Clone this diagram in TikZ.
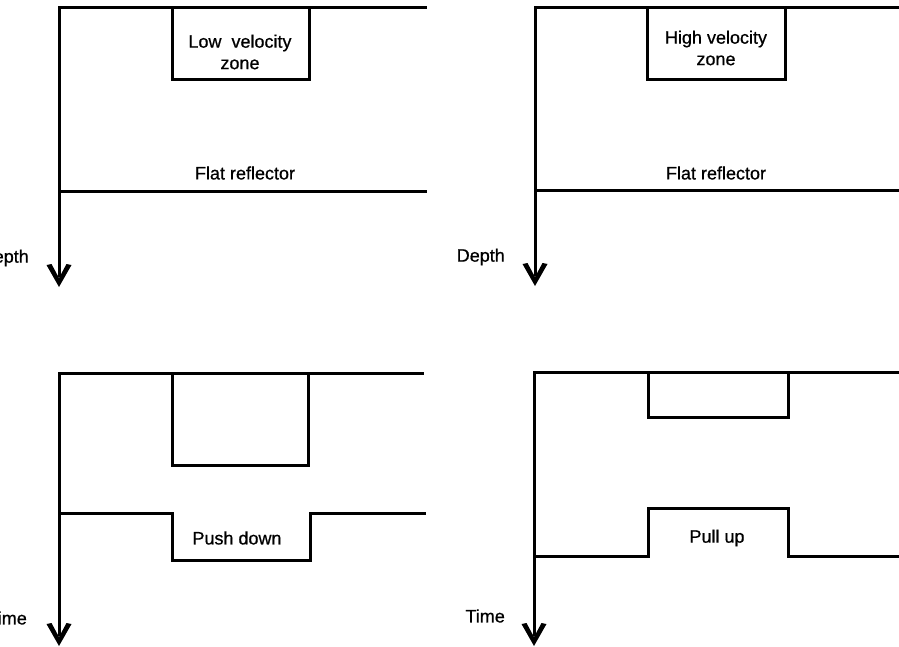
\documentclass[tikz,border=0pt]{standalone}
\usepackage{fontspec}
\setmainfont{Liberation Sans}
\newfontfamily\lblfont{Liberation Sans}[FakeBold=0.7]
\begin{document}
\begin{tikzpicture}[x=1pt,y=-1pt,
  ln/.style={line width=3pt, line join=miter, line cap=rect},
  shaft/.style={line width=3pt},
  lbl/.style={font=\lblfont\fontsize{18}{21.5}\selectfont\addfontfeature{FakeBold=0.7}, inner sep=0pt, align=center}]
\useasboundingbox (0,0) rectangle (899,647);
\clip (0,0) rectangle (899,647);
\newcommand{\axhead}[1]{%
  \fill (#1) -- ++(-12.5,-22) -- ++(5,-1) -- ++(7.5,14) -- ++(7.5,-14) -- ++(5,1) -- cycle;}
% ---------- top-left: Low velocity zone (depth)
\coordinate (tlO) at (59,8);
\coordinate (tlE) at (425,8);
\coordinate (tlA) at (59,287);
\draw[ln] (tlO) -- (tlE);
\draw[shaft] (tlO) -- ([yshift=10pt]tlA);
\axhead{tlA}
\draw[ln] (172,8) -- (172,80) -- (309,80) -- (309,8);
\draw[ln] (59,192) -- (425,192);
\node[lbl] (lvz) at (240,52) {Low\ \ velocity\\zone};
\node[lbl] (flA) at (245,173) {Flat reflector};
\node[lbl, anchor=east] (dA) at (29,258) {Depth};
% ---------- top-right: High velocity zone (depth)
\coordinate (trO) at (535,8);
\coordinate (trE) at (899,8);
\coordinate (trA) at (535,286);
\draw[ln] (trO) -- (trE);
\draw[shaft] (trO) -- ([yshift=10pt]trA);
\axhead{trA}
\draw[ln] (647,8) -- (647,80) -- (785,80) -- (785,8);
\draw[ln] (535,191) -- (899,191);
\node[lbl] (hvz) at (716,48) {High velocity\\zone};
\node[lbl] (flB) at (716,173) {Flat reflector};
\node[lbl, anchor=east] (dB) at (505,257) {Depth};
% ---------- bottom-left: push down (time)
\coordinate (blO) at (59,373);
\coordinate (blE) at (422,373);
\coordinate (blA) at (59,646);
\draw[ln] (blO) -- (blE);
\draw[shaft] (blO) -- ([yshift=10pt]blA);
\axhead{blA}
\draw[ln] (172,373) -- (172,465) -- (308,465) -- (308,373);
\draw[ln] (59,513) -- (172,513) -- (172,560) -- (310,560) -- (310,513) -- (424,513);
\node[lbl] (pd) at (237,538) {Push down};
\node[lbl, anchor=east] (tA) at (27,618) {Time};
% ---------- bottom-right: pull up (time)
\coordinate (brO) at (534,372);
\coordinate (brE) at (899,372);
\coordinate (brA) at (534,646);
\draw[ln] (brO) -- (brE);
\draw[shaft] (brO) -- ([yshift=10pt]brA);
\axhead{brA}
\draw[ln] (648,372) -- (648,417) -- (788,417) -- (788,372);
\draw[ln] (534,556) -- (648,556) -- (648,508) -- (788,508) -- (788,556) -- (899,556);
\node[lbl] (pu) at (717,538) {Pull up};
\node[lbl, anchor=east] (tB) at (505,616) {Time};
\end{tikzpicture}
\end{document}
